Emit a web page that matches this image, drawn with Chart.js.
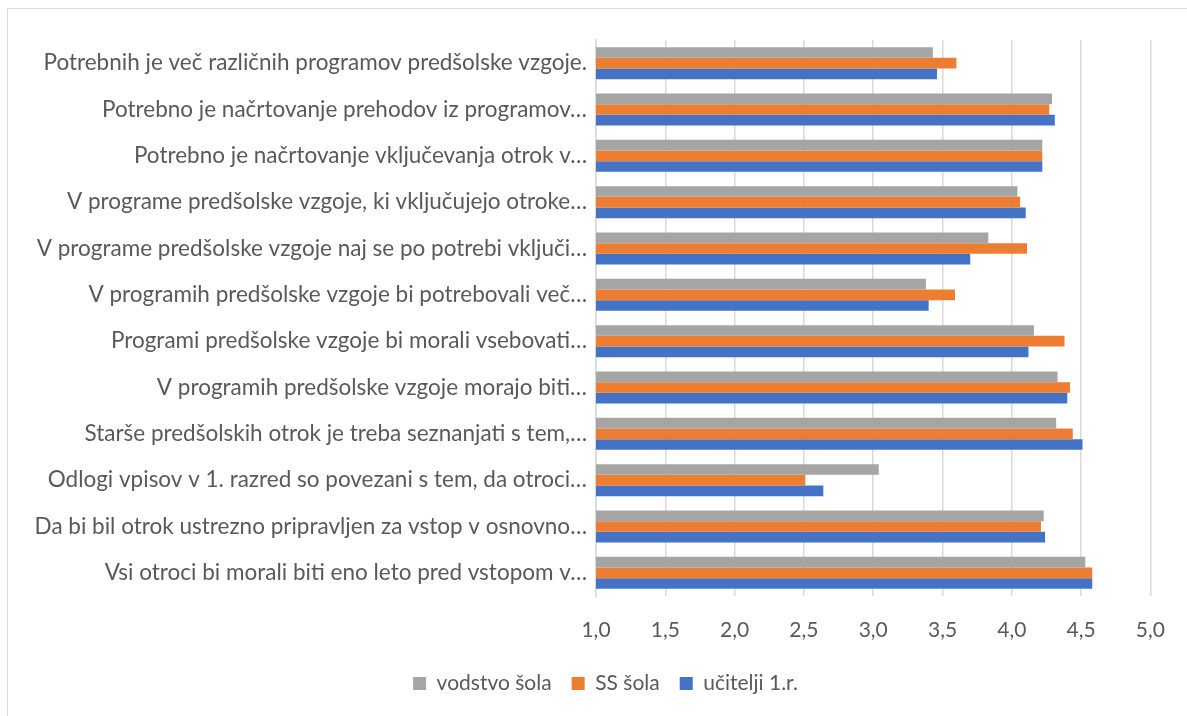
<!DOCTYPE html>
<html>
<head>
<meta charset="utf-8">
<title>Predšolska vzgoja</title>
<script src="https://cdn.jsdelivr.net/npm/chart.js@4"></script>
<style>
    html, body { margin: 0; padding: 0; background: #fff; }
    #wrap { position: relative; width: 1187px; height: 716px; overflow: hidden; }
    #frame { position: absolute; left: 7px; top: 8px; width: 1200px; height: 720px; border: 1px solid #d9d9d9; box-sizing: border-box; }
    #chart { position: absolute; left: 0; top: 0; }
</style>
</head>
<body>
<div id="wrap">
    <div id="frame"></div>
    <canvas id="chart" width="1187" height="716"></canvas>
</div>
<script>
    // Categories (top to bottom, as shown)
    const categories = [
        "Potrebnih je več različnih programov predšolske vzgoje.",
        "Potrebno je načrtovanje prehodov iz programov…",
        "Potrebno je načrtovanje vključevanja otrok v…",
        "V programe predšolske vzgoje, ki vključujejo otroke…",
        "V programe predšolske vzgoje naj se po potrebi vključi…",
        "V programih predšolske vzgoje bi potrebovali več…",
        "Programi predšolske vzgoje bi morali vsebovati…",
        "V programih predšolske vzgoje morajo biti…",
        "Starše predšolskih otrok je treba seznanjati s tem,…",
        "Odlogi vpisov v 1. razred so povezani s tem, da otroci…",
        "Da bi bil otrok ustrezno pripravljen za vstop v osnovno…",
        "Vsi otroci bi morali biti eno leto pred vstopom v…"
    ];

    // Series values
    const vodstvoSola = [3.43, 4.29, 4.22, 4.04, 3.83, 3.38, 4.16, 4.33, 4.32, 3.04, 4.23, 4.53];
    const ssSola      = [3.60, 4.27, 4.22, 4.06, 4.11, 3.59, 4.38, 4.42, 4.44, 2.51, 4.21, 4.58];
    const uciteljiR1  = [3.46, 4.31, 4.22, 4.10, 3.70, 3.40, 4.12, 4.40, 4.51, 2.64, 4.24, 4.58];

    // Axis
    const axisMin = 1;
    const axisMax = 5;
    const axisStep = 0.5;

    const textColor = "#595959";
    const fontFamily = "Lato, 'Open Sans', sans-serif";

    // Legend sits right of the canvas centre in the original
    const legendShift = {
        id: "legendShift",
        afterLayout: function (chart) {
            if (chart.legend) {
                chart.legend.left += 30;
                chart.legend.right += 30;
            }
        }
    };

    const ctx = document.getElementById("chart").getContext("2d");
    const myChart = new Chart(ctx, {
        type: "bar",
        data: {
            labels: categories,
            datasets: [{
                label: "vodstvo šola",
                data: vodstvoSola,
                backgroundColor: "#a5a5a5"
            },
            {
                label: "SS šola",
                data: ssSola,
                backgroundColor: "#ed7d31"
            },
            {
                label: "učitelji 1.r.",
                data: uciteljiR1,
                backgroundColor: "#4472c4"
            }]
        },
        options: {
            indexAxis: "y",
            responsive: false,
            animation: false,
            categoryPercentage: 0.69,
            barPercentage: 1.0,
            layout: {
                padding: { top: 40, right: 36, left: 0, bottom: 12 }
            },
            scales: {
                x: {
                    min: axisMin,
                    max: axisMax,
                    afterFit: function (scale) {
                        scale.height = 57;
                    },
                    border: { display: false },
                    grid: {
                        color: "#d9d9d9",
                        lineWidth: 1.5,
                        drawTicks: false
                    },
                    ticks: {
                        stepSize: axisStep,
                        padding: 22,
                        color: textColor,
                        font: { family: fontFamily, size: 21 },
                        callback: function (value) {
                            return Number(value).toFixed(1).replace(".", ",");
                        }
                    }
                },
                y: {
                    afterFit: function (scale) {
                        scale.width = 596;
                    },
                    border: { display: true, color: "#d9d9d9", width: 1.5 },
                    grid: { display: false, drawTicks: false },
                    ticks: {
                        padding: 9,
                        color: textColor,
                        autoSkip: false,
                        font: { family: fontFamily, size: 22.5 }
                    }
                }
            },
            plugins: {
                legend: {
                    position: "bottom",
                    labels: {
                        boxWidth: 13,
                        boxHeight: 13,
                        padding: 20,
                        color: textColor,
                        font: { family: fontFamily, size: 21 }
                    }
                },
                tooltip: { enabled: false }
            }
        },
        plugins: [legendShift]
    });
</script>
</body>
</html>
